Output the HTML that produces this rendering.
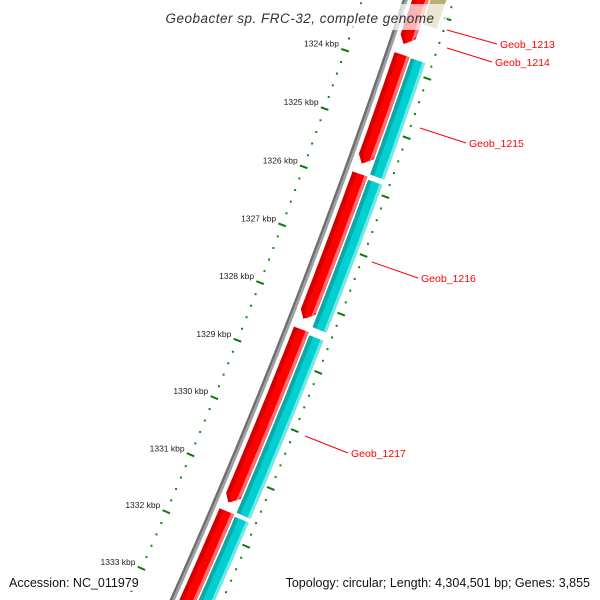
<!DOCTYPE html>
<html><head><meta charset="utf-8"><style>
html,body{margin:0;padding:0;background:#fff;}
svg{display:block;font-family:"Liberation Sans","DejaVu Sans",sans-serif;}
</style></head><body>
<svg id="map" width="600" height="600" viewBox="0 0 600 600"></svg>
<script>
// ---- data ----
const forwardStarts = [1320.0, 1323.77, 1325.80, 1328.46, 1331.61];
const forwardEnds   = [1323.60, 1325.63, 1328.29, 1331.47, 1336.0];
const reverseStarts = [1323.78, 1325.84, 1328.50, 1331.64];
const reverseEnds   = [1325.75, 1328.36, 1331.57, 1336.0];
const tickLabels = [1324,1325,1326,1327,1328,1329,1330,1331,1332,1333];
const geneLabels = ["Geob_1213","Geob_1214","Geob_1215","Geob_1216","Geob_1217"];
const geneLabelLines = [[447,30,497,44],[447,48,492,62],[420,128,466,143],[372,262,418,278],[305,436,348,453]];

// ---- geometry ----
const CX=-5763, CY=-2050, RB=6500, A0=0.3695, DA=0.00958;
function ang(k){return A0+(k-1328)*DA;}
function pt(k,r){const a=ang(k);return [CX+r*Math.cos(a), CY+r*Math.sin(a)];}
const SVGNS="http://www.w3.org/2000/svg";
const mapSvg=document.getElementById('map');
function mk(tag,attrs,parent){const e=document.createElementNS(SVGNS,tag);for(const a in attrs)e.setAttribute(a,attrs[a]);(parent||mapSvg).appendChild(e);return e;}

function bandPts(k1,k2,r1,r2,arrow){
  const pts=[];const tipK=arrow?k2-0.13:k2;const n=30;
  for(let i=0;i<=n;i++){pts.push(pt(k1+(tipK-k1)*i/n,r1));}
  if(arrow) pts.push(pt(k2,(r1+r2)/2-2));
  for(let i=n;i>=0;i--){pts.push(pt(k1+(tipK-k1)*i/n,r2));}
  return pts.map(p=>p[0].toFixed(1)+','+p[1].toFixed(1)).join(' ');
}

// backbone
const bb=mk('g',{});


mk('polygon',{points:bandPts(1320,1336,RB-2.5,RB,false),fill:'#6e6e6e'},bb);
mk('polygon',{points:bandPts(1320,1336,RB,RB+2.5,false),fill:'#a0a0a0'},bb);

// forward genes
for(let i=0;i<forwardStarts.length;i++){
  const g=mk('g',{});
  
  
  const s=forwardStarts[i],e=forwardEnds[i],ar=e<1335;
  mk('polygon',{points:bandPts(s,e,RB+6.5,RB+22.3,ar),fill:'#d40000'},g);
  mk('polygon',{points:bandPts(s,e-(ar?0.02:0),RB+11,RB+22.3,ar),fill:'#ff0000'},g);
  mk('polygon',{points:bandPts(s,e-(ar?0.05:0),RB+19,RB+22.3,ar),fill:'#ff7070'},g);
}
// reverse genes
for(let i=0;i<reverseStarts.length;i++){
  const g=mk('g',{});
  
  
  const s=reverseStarts[i],e=reverseEnds[i];
  mk('polygon',{points:bandPts(s,e,RB+24,RB+39,false),fill:'#0aa8a8'},g);
  mk('polygon',{points:bandPts(s,e,RB+28,RB+39,false),fill:'#00d0d0'},g);
  mk('polygon',{points:bandPts(s,e,RB+36,RB+39,false),fill:'#70e8e8'},g);
}
// khaki feature at top
const kh=mk('polygon',{points:bandPts(1322.7,1323.2,RB+24,RB+39,false),fill:'#b8b070'});



// ticks
for(let k=1320;k<=1336.001;k+=0.2){
  const kk=Math.round(k*10)/10;const major=Math.abs(kk-Math.round(kk))<0.01;
  [-41,46].forEach(off=>{
    let t;
    if(major){const a=pt(kk,RB+off-4),b=pt(kk,RB+off+4);t=mk('line',{x1:a[0],y1:a[1],x2:b[0],y2:b[1],stroke:'#0a7a0a','stroke-width':2});}
    else{const p=pt(kk,RB+off);t=mk('rect',{x:p[0]-1,y:p[1]-1,width:2,height:2,fill:'#0a8a0a'});}
    
    
  });
}
tickLabels.forEach(k=>{
  const p=pt(k,RB-41);
  const t=mk('text',{x:(p[0]-6).toFixed(1),y:(p[1]-3.5).toFixed(1),'text-anchor':'end','font-size':'8.5',fill:'#222'});
  t.textContent=k+' kbp';
  
  
});

// gene labels
geneLabels.forEach((labelName,i)=>{
  const L=geneLabelLines[i];
  const l=mk('line',{x1:L[0],y1:L[1],x2:L[2],y2:L[3],stroke:'#ff0000','stroke-width':1});
  
  
  const t=mk('text',{x:L[2]+3,y:L[3]+4,'font-size':'10.5',fill:'#ff0000'});
  t.textContent=labelName;
  
  
});

// title
const titleBg=mk('rect',{x:155,y:4,width:292,height:26,fill:'#fff','fill-opacity':0.7});


const titleText=mk('text',{x:300,y:23,'text-anchor':'middle','font-size':'13.5','font-style':'italic',fill:'#333','letter-spacing':'0.5'});
titleText.textContent='Geobacter sp. FRC-32, complete genome';



const accBg=mk('rect',{x:5,y:573,width:142,height:18,fill:'#fff','fill-opacity':0.7});


const accText=mk('text',{x:9,y:587,'font-size':'12.5',fill:'#111'});
accText.textContent='Accession: NC_011979';


const summaryText=mk('text',{x:590,y:587,'text-anchor':'end','font-size':'12.5',fill:'#111'});
summaryText.textContent='Topology: circular; Length: 4,304,501 bp; Genes: 3,855';


</script>
</body></html>
